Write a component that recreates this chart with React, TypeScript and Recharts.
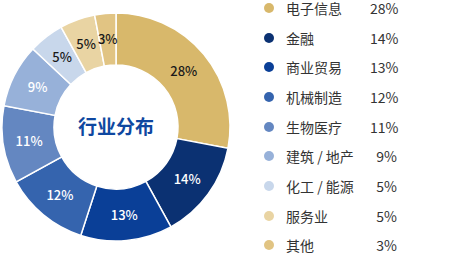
import { PieChart, Pie, Cell } from "recharts";

const categories = ["电子信息", "金融", "商业贸易", "机械制造", "生物医疗", "建筑 / 地产", "化工 / 能源", "服务业", "其他"];
const shares = [28, 14, 13, 12, 11, 9, 5, 5, 3];
const colors = ["#D8B86B", "#0B3172", "#0A3F97", "#3564AE", "#6487C1", "#97B1D9", "#C8D7EB", "#E9D4A3", "#E1C483"];
const darkLabel = [true, false, false, false, false, false, true, true, true];

const data = categories.map((name, i) => ({ name, value: shares[i], color: colors[i], dark: darkLabel[i] }));

const FONT = "'Noto Sans CJK SC', 'Noto Sans', sans-serif";
const RAD = Math.PI / 180;

const renderLabel = (props: any) => {
    const { cx, cy, midAngle, innerRadius, outerRadius, index, value } = props;
    const r = (innerRadius + outerRadius) / 2;
    const x = cx + r * Math.cos(-midAngle * RAD);
    const y = cy + r * Math.sin(-midAngle * RAD);
    return (
        <text x={x} y={y} dy={5} textAnchor="middle" fontSize={13} fontWeight={500}
            fill={data[index].dark ? "#1a1a1a" : "#ffffff"} fontFamily={FONT}>
            {value}%
        </text>
    );
};

function SideLegend() {
    return (
        <div style={{ position: "absolute", left: 250, top: -7, fontFamily: FONT, fontSize: 14, color: "#333" }}>
            {data.map((d) => (
                <div key={d.name} style={{ display: "flex", alignItems: "center", height: 29.7 }}>
                    <span style={{ width: 10, height: 10, borderRadius: 5, background: d.color, marginLeft: 14, marginRight: 12 }} />
                    <span style={{ width: 84 }}>{d.name}</span>
                    <span style={{ width: 27, textAlign: "right" }}>{d.value}%</span>
                </div>
            ))}
        </div>
    );
}

export default function App() {
    return (
        <div style={{ position: "absolute", left: 0, top: 0, width: 460, height: 254, background: "#fff", overflow: "hidden" }}>
            <PieChart width={250} height={254} margin={{ top: 0, right: 0, bottom: 0, left: 0 }}>
                <Pie
                    data={data}
                    dataKey="value"
                    nameKey="name"
                    cx={116}
                    cy={127}
                    innerRadius={62}
                    outerRadius={114}
                    startAngle={90}
                    endAngle={-270}
                    stroke="#ffffff"
                    strokeWidth={1.5}
                    label={renderLabel}
                    labelLine={false}
                    isAnimationActive={false}
                >
                    {data.map((d) => (
                        <Cell key={d.name} fill={d.color} />
                    ))}
                </Pie>
                <text x={116} y={127} dy={7} textAnchor="middle" fontSize={19} fontWeight={700} fill="#0E47A0" fontFamily={FONT}>
                    行业分布
                </text>
            </PieChart>
            <SideLegend />
        </div>
    );
}
